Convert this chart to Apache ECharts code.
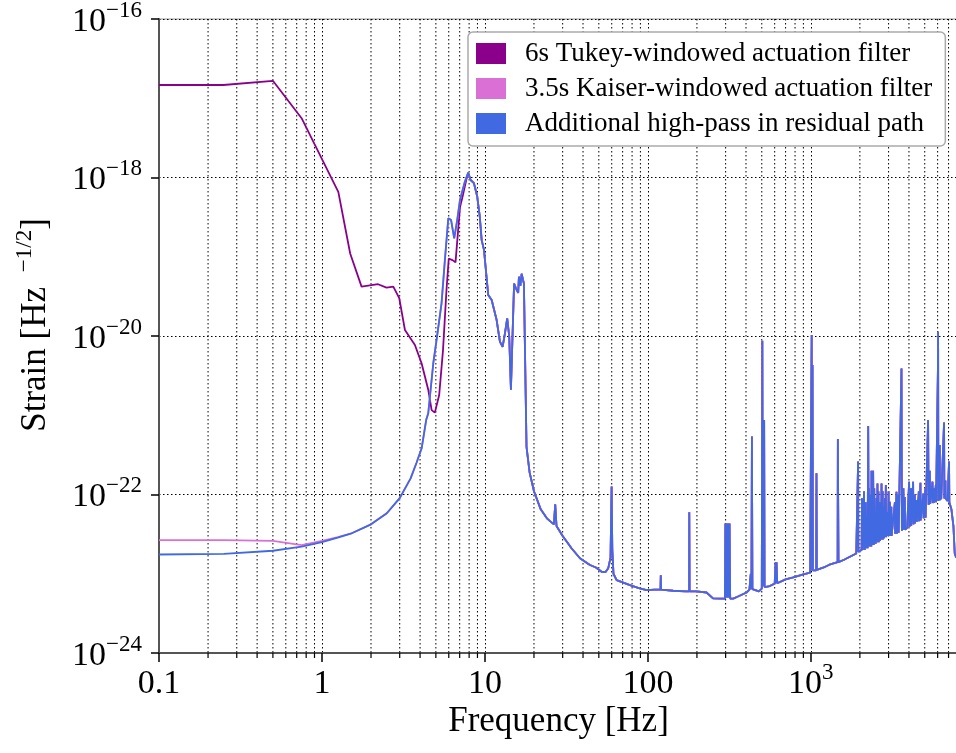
<!DOCTYPE html>
<html><head><meta charset="utf-8">
<script src="https://cdn.jsdelivr.net/npm/echarts@6/dist/echarts.min.js"></script>
<style>html,body{margin:0;padding:0;background:#fff}#c{width:956px;height:753px}</style>
</head><body><div id="c"></div>
<script>
// ---------- DATA ----------
const seriesNames = ['6s Tukey-windowed actuation filter', '3.5s Kaiser-windowed actuation filter', 'Additional high-pass in residual path'];
const seriesColors = ['#8B008B', '#DA70D6', '#4169E1'];

// 6s Tukey, low-frequency part (below ~8 Hz)
const tukeyFreq = [0.1, 0.248, 0.5, 0.75, 1.26, 1.49, 1.75, 2.21, 2.49, 2.74,
  2.98, 3.23, 3.72, 4.09, 4.49, 4.71, 4.93, 5.24, 5.53, 5.81,
  6.0, 6.36, 6.6, 7.03, 7.3, 7.7];
const tukeyStrain = [1.47e-17, 1.47e-17, 1.66e-17, 5.6e-18, 6.6e-19, 1.1e-19, 4.2e-20, 4.5e-20, 4.07e-20, 4.2e-20,
  3.0e-20, 1.19e-20, 7.7e-21, 4.5e-21, 2.1e-21, 1.16e-21, 1.08e-21, 1.8e-21, 6.6e-21, 3.8e-20,
  9.5e-20, 9.0e-20, 8.5e-20, 4.2e-19, 5.8e-19, 9.5e-19];

// 3.5s Kaiser, lowest frequencies
const kaiserLowFreq = [0.1, 0.25, 0.5, 0.75, 1.0, 1.25];
const kaiserLowStrain = [2.65e-23, 2.65e-23, 2.6e-23, 2.3e-23, 2.6e-23, 2.9e-23];

// Additional high-pass, lowest frequencies
const hpLowFreq = [0.1, 0.25, 0.5, 0.75, 1.0, 1.25];
const hpLowStrain = [1.75e-23, 1.78e-23, 1.95e-23, 2.2e-23, 2.5e-23, 2.85e-23];

// shared by Kaiser and high-pass, 1.5 - 7.5 Hz
const midFreq = [1.5, 2.0, 2.5, 3.0, 3.5, 3.8, 4.09, 4.36, 4.49, 4.82,
  5.1, 5.42, 5.68, 5.96, 6.2, 6.48, 6.76, 7.03, 7.53];
const midStrain = [3.2e-23, 4.2e-23, 5.8e-23, 9e-23, 1.6e-22, 2.5e-22, 3.83e-22, 8.7e-22, 1.06e-21, 4.5e-21,
  1.03e-20, 2.6e-20, 9.1e-20, 3.05e-19, 2.9e-19, 1.71e-19, 2.9e-19, 5.2e-19, 8.85e-19];

// shared by all three curves, ~8 Hz - 2 kHz
const commonFreq = [
  7.9, 8.17, 8.56, 8.97, 9.3, 9.55, 9.87, 10.48, 11.0, 11.8,
  12.36, 12.84, 13.27, 13.7, 14.1, 14.44, 15.1, 15.5, 15.8, 16.0,
  16.17, 16.5, 16.8, 17.1, 17.35, 18.0, 18.8, 20.0, 22.0, 24.0,
  26.5, 27.0, 27.5, 30.0, 34.0, 38.3, 44.1, 48.0, 52.0, 55.0,
  57.1, 59.0, 59.9, 60.5, 61.5, 64.3, 70.0, 77.6, 88.0, 98.2,
  110, 119.5, 120, 120.5, 143, 170, 179, 179.5, 180.3, 199,
  229, 251, 280, 297, 299, 302, 305, 308, 311, 314,
  317, 320, 334, 360, 403, 420, 428, 432, 435, 438,
  480, 500, 504, 507, 514, 517, 520, 560, 600, 608,
  612, 616, 622, 700, 780, 900, 990, 1008, 1012, 1018,
  1024, 1030, 1078, 1083, 1088, 1200, 1300, 1460, 1465, 1472,
  1478, 1600, 1700, 1900, 1945, 1950, 1956];
const commonStrain = [
  1.15e-18, 9.3e-19, 8.5e-19, 5.75e-19, 3.2e-19, 1.62e-19, 1.22e-19, 3.29e-20, 2.84e-20, 1.59e-20,
  8.5e-21, 7.3e-21, 1.08e-20, 1.67e-20, 9.8e-21, 2.1e-21, 4.6e-20, 4.0e-20, 4.2e-20, 3.5e-20,
  5.6e-20, 4.3e-20, 6.1e-20, 5.2e-20, 4.6e-20, 4.0e-22, 1.9e-22, 1.1e-22, 6.5e-23, 5.0e-23,
  4.2e-23, 7.5e-23, 4.0e-23, 3.0e-23, 2.1e-23, 1.57e-23, 1.29e-23, 1.2e-23, 1.06e-23, 1.05e-23,
  1.17e-23, 1.6e-23, 1.26e-22, 2.0e-23, 1.0e-23, 8.3e-24, 7.8e-24, 7.2e-24, 6.6e-24, 6.2e-24,
  6.3e-24, 6.3e-24, 9.6e-24, 6.3e-24, 6.1e-24, 6.0e-24, 6.0e-24, 5.96e-23, 6.0e-24, 6.0e-24,
  5.8e-24, 4.9e-24, 4.85e-24, 4.85e-24, 4.3e-23, 5.0e-24, 4.3e-23, 5.0e-24, 4.3e-23, 5.0e-24,
  4.3e-23, 4.85e-24, 4.85e-24, 5.2e-24, 5.8e-24, 6.3e-24, 1.0e-23, 6.4e-24, 5.4e-22, 6.4e-24,
  6.0e-24, 6.5e-24, 8.7e-21, 7.0e-24, 7.0e-24, 8.7e-22, 6.8e-24, 7.0e-24, 7.5e-24, 1.4e-23,
  7.6e-24, 1.4e-23, 7.6e-24, 8.5e-24, 9.0e-24, 9.8e-24, 1.03e-23, 1.05e-23, 1.03e-20, 1.1e-23,
  4.3e-21, 1.1e-23, 1.1e-23, 1.85e-22, 1.12e-23, 1.2e-23, 1.3e-23, 1.4e-23, 5.0e-22, 4.9e-22,
  1.4e-23, 1.5e-23, 1.6e-23, 1.8e-23, 1.85e-23, 2.6e-22, 1.9e-23];

// shared by all three curves, 2 kHz - 7.8 kHz (dense lines)
const grassFreq = [
  2050, 2060, 2080, 2100, 2120, 2140, 2170, 2185, 2200, 2230,
  2249, 2265, 2270, 2285, 2300, 2320, 2340, 2350, 2356, 2380,
  2412, 2430, 2450, 2460, 2480, 2500, 2530, 2540, 2564, 2580,
  2600, 2610, 2640, 2660, 2690, 2700, 2715, 2730, 2760, 2770,
  2800, 2820, 2850, 2860, 2886, 2900, 2960, 2980, 3000, 3010,
  3053, 3070, 3120, 3130, 3200, 3280, 3290, 3355, 3370, 3450,
  3460, 3500, 3600, 3620, 3700, 3710, 3773, 3790, 3900, 4010,
  4030, 4120, 4130, 4243, 4260, 4350, 4360, 4450, 4470, 4600,
  4610, 4706, 4720, 4900, 4920, 5050, 5060, 5200, 5243, 5280,
  5370, 5400, 5580, 5600, 5700, 5710, 5850, 5870, 6000, 6030,
  6040, 6060, 6180, 6200, 6300, 6310, 6400, 6570, 6600, 6700,
  6710, 6900, 7050, 7080, 7290, 7500, 7640, 7800];
const grassStrain = [
  2.0e-23, 9e-23, 2.0e-23, 4.0e-23, 1.1e-22, 2.0e-23, 8e-23, 2.1e-23, 5.5e-23, 2.1e-23,
  7.3e-22, 2.2e-23, 1.2e-22, 2.2e-23, 1.0e-22, 2.2e-23, 9e-23, 2.2e-23, 2.0e-22, 2.3e-23,
  2.0e-22, 2.3e-23, 1.2e-22, 2.4e-23, 6.0e-23, 2.4e-23, 9e-23, 2.5e-23, 1.38e-22, 2.5e-23,
  1.1e-22, 2.5e-23, 8.0e-23, 2.6e-23, 7e-23, 2.7e-23, 1.38e-22, 2.7e-23, 1.1e-22, 2.7e-23,
  7.0e-23, 2.8e-23, 9e-23, 2.9e-23, 1.32e-22, 2.9e-23, 6.0e-23, 3.0e-23, 1.1e-22, 3.0e-23,
  8.1e-23, 3.0e-23, 7e-23, 3.0e-23, 3.1e-23, 8e-23, 3.2e-23, 1.08e-22, 3.2e-23, 1.0e-22,
  3.3e-23, 3.4e-23, 3.9e-21, 3.5e-23, 1.2e-22, 3.6e-23, 9.3e-23, 3.6e-23, 3.8e-23, 1.45e-22,
  3.9e-23, 1.2e-22, 4.0e-23, 1.45e-22, 4.2e-23, 1.0e-22, 4.3e-23, 8.5e-23, 4.5e-23, 1.1e-22,
  4.6e-23, 1.41e-22, 4.7e-23, 1.03e-22, 5.0e-23, 1.2e-22, 5.1e-23, 5.2e-23, 8.7e-22, 7.4e-23,
  2.0e-22, 7.6e-23, 1.45e-22, 7.8e-23, 1.2e-22, 7.9e-23, 1.32e-22, 8.0e-23, 8.2e-23, 4.5e-21,
  1.13e-20, 8.3e-23, 4.2e-22, 8.5e-23, 1.3e-22, 8.7e-23, 8.8e-23, 8.1e-22, 8.9e-23, 1.5e-22,
  8.9e-23, 8.3e-23, 2.6e-22, 8.0e-23, 6.5e-23, 4.0e-23, 1.8e-23, 1.6e-23];

// axes
const xMin = 0.1, xMax = 8000, yMin = 1e-24, yMax = 1e-16;
const xTickValues = [0.1, 1, 10, 100, 1000];
const xTickLabels = ['{a|0.1}', '{a|1}', '{a|10}', '{a|100}', '{a|10}{b|3}'];
const yTickValues = [1e-24, 1e-22, 1e-20, 1e-18, 1e-16];
const yTickLabels = ['{a|10}{b|−24}', '{a|10}{b|−22}', '{a|10}{b|−20}', '{a|10}{b|−18}', '{a|10}{b|−16}'];
const xAxisTitle = 'Frequency [Hz]';
const yAxisTitle = '{n|Strain [Hz }{s|−1/2}{n|]}';

// ---------- BUILD ----------
function pairs(fs, ss) { return fs.map((f, i) => [f, ss[i]]); }
const shared = pairs(commonFreq, commonStrain).concat(pairs(grassFreq, grassStrain));
const tukeyData = pairs(tukeyFreq, tukeyStrain).concat(shared);
const kaiserData = pairs(kaiserLowFreq, kaiserLowStrain).concat(pairs(midFreq, midStrain), shared);
const hpData = pairs(hpLowFreq, hpLowStrain).concat(pairs(midFreq, midStrain), shared);

const minorFreqs = [];
for (let d = xMin; d < xMax; d *= 10) {
  for (let k = 2; k <= 9; k++) { const f = +(k * d).toPrecision(6); if (f < xMax) minorFreqs.push([f, yMin]); }
}

const FONT = '"Liberation Serif", "Times New Roman", serif';
function pickLabel(vals, labels) {
  return function (v) {
    if (!(v > 0)) return '';
    const lv = Math.log10(v);
    for (let i = 0; i < vals.length; i++) if (Math.abs(lv - Math.log10(vals[i])) < 1e-6) return labels[i];
    return '';
  };
}
const richTick = {
  a: { fontFamily: FONT, fontSize: 34, lineHeight: 40, verticalAlign: 'bottom', color: '#000' },
  b: { fontFamily: FONT, fontSize: 23, lineHeight: 30, verticalAlign: 'top', color: '#000' }
};
const Y_LABEL_MARGIN = 17;

const chart = echarts.init(document.getElementById('c'), null, { renderer: 'canvas' });
const dotted = { color: '#000', width: 1, type: [1.5, 2.5] };

function mkLine(name, color, data) {
  return { name, type: 'line', data, showSymbol: false, symbol: 'none', z: 3,
    lineStyle: { color, width: 1.8 }, itemStyle: { color }, animation: false, emphasis: { disabled: true } };
}

chart.setOption({
  animation: false,
  textStyle: { fontFamily: FONT },
  grid: { left: 159, top: 19, width: 799, height: 634, show: true, borderColor: '#999', borderWidth: 1,
    containLabel: false, outerBoundsMode: 'none' },
  legend: {
    data: seriesNames, orient: 'vertical', left: 468, top: 32,
    icon: 'rect', itemWidth: 30, itemHeight: 21, itemGap: 8,
    padding: [8, 13, 9, 8], backgroundColor: '#fff', borderColor: '#aaa', borderWidth: 1.5, borderRadius: 5,
    textStyle: { fontFamily: FONT, fontSize: 27, color: '#000', padding: [0, 0, 0, 14] },
    selectedMode: false, itemStyle: { borderWidth: 0 }
  },
  xAxis: {
    type: 'log', logBase: 10, min: xMin, max: xMax, interval: 1,
    axisLine: { show: true, lineStyle: { color: '#555', width: 2 } },
    axisTick: { show: true, length: 9, lineStyle: { color: '#000', width: 1.5 } },
    axisLabel: { formatter: pickLabel(xTickValues, xTickLabels), rich: richTick, margin: 8,
      showMinLabel: true, showMaxLabel: false },
    splitLine: { show: true, lineStyle: dotted },
    name: xAxisTitle, nameLocation: 'middle', nameGap: 51, nameMoveOverlap: false,
    nameTextStyle: { fontFamily: FONT, fontSize: 35, color: '#000' }
  },
  yAxis: {
    type: 'log', logBase: 10, min: yMin, max: yMax, interval: 2,
    axisLine: { show: true, lineStyle: { color: '#555', width: 2 } },
    axisTick: { show: true, length: 8, lineStyle: { color: '#000', width: 1.5 } },
    axisLabel: { formatter: pickLabel(yTickValues, yTickLabels), rich: richTick, margin: Y_LABEL_MARGIN,
      showMinLabel: true, showMaxLabel: true },
    splitLine: { show: true, lineStyle: dotted },
    name: yAxisTitle, nameLocation: 'middle', nameGap: 106, nameRotate: 90, nameMoveOverlap: false,
    nameTextStyle: { fontFamily: FONT, fontSize: 35, color: '#000', padding: [0, 0, 0, 22], rich: {
      n: { fontFamily: FONT, fontSize: 35, lineHeight: 40, verticalAlign: 'bottom', color: '#000' },
      s: { fontFamily: FONT, fontSize: 23, lineHeight: 30, verticalAlign: 'top', color: '#000', padding: [0, 0, 0, 6] }
    } }
  },
  series: [
    { type: 'custom', name: 'minorGrid', data: minorFreqs, encode: { x: 0, y: 1 }, silent: true, z: 1, clip: false,
      animation: false,
      renderItem: function (params, api) {
        const f = api.value(0);
        const top = api.coord([f, yMax]);
        const bot = api.coord([f, yMin]);
        return { type: 'group', children: [
          { type: 'line', shape: { x1: top[0], y1: top[1], x2: bot[0], y2: bot[1] },
            style: { stroke: '#000', lineWidth: 1, lineDash: [1.5, 2.5] } },
          { type: 'line', shape: { x1: bot[0], y1: bot[1], x2: bot[0], y2: bot[1] + 5 },
            style: { stroke: '#000', lineWidth: 1.2 } }
        ] };
      }
    },
    // lowest y tick + label (log scale rounds the 1e-24 tick value to 0, so it is drawn here)
    { type: 'custom', name: 'yMinTick', data: [[xMin, yTickValues[0]]], encode: { x: 0, y: 1 }, silent: true, z: 5,
      clip: false, animation: false,
      renderItem: function (params, api) {
        const p = api.coord([api.value(0), api.value(1)]);
        return { type: 'group', children: [
          { type: 'line', shape: { x1: p[0] - 8, y1: p[1], x2: p[0], y2: p[1] },
            style: { stroke: '#000', lineWidth: 1.5 } },
          { type: 'text', x: p[0] - Y_LABEL_MARGIN, y: p[1],
            style: { text: yTickLabels[0], rich: richTick, align: 'right', verticalAlign: 'middle',
              fontFamily: FONT, fill: '#000' } }
        ] };
      }
    },
    mkLine(seriesNames[0], seriesColors[0], tukeyData),
    mkLine(seriesNames[1], seriesColors[1], kaiserData),
    mkLine(seriesNames[2], seriesColors[2], hpData)
  ]
});
</script></body></html>
